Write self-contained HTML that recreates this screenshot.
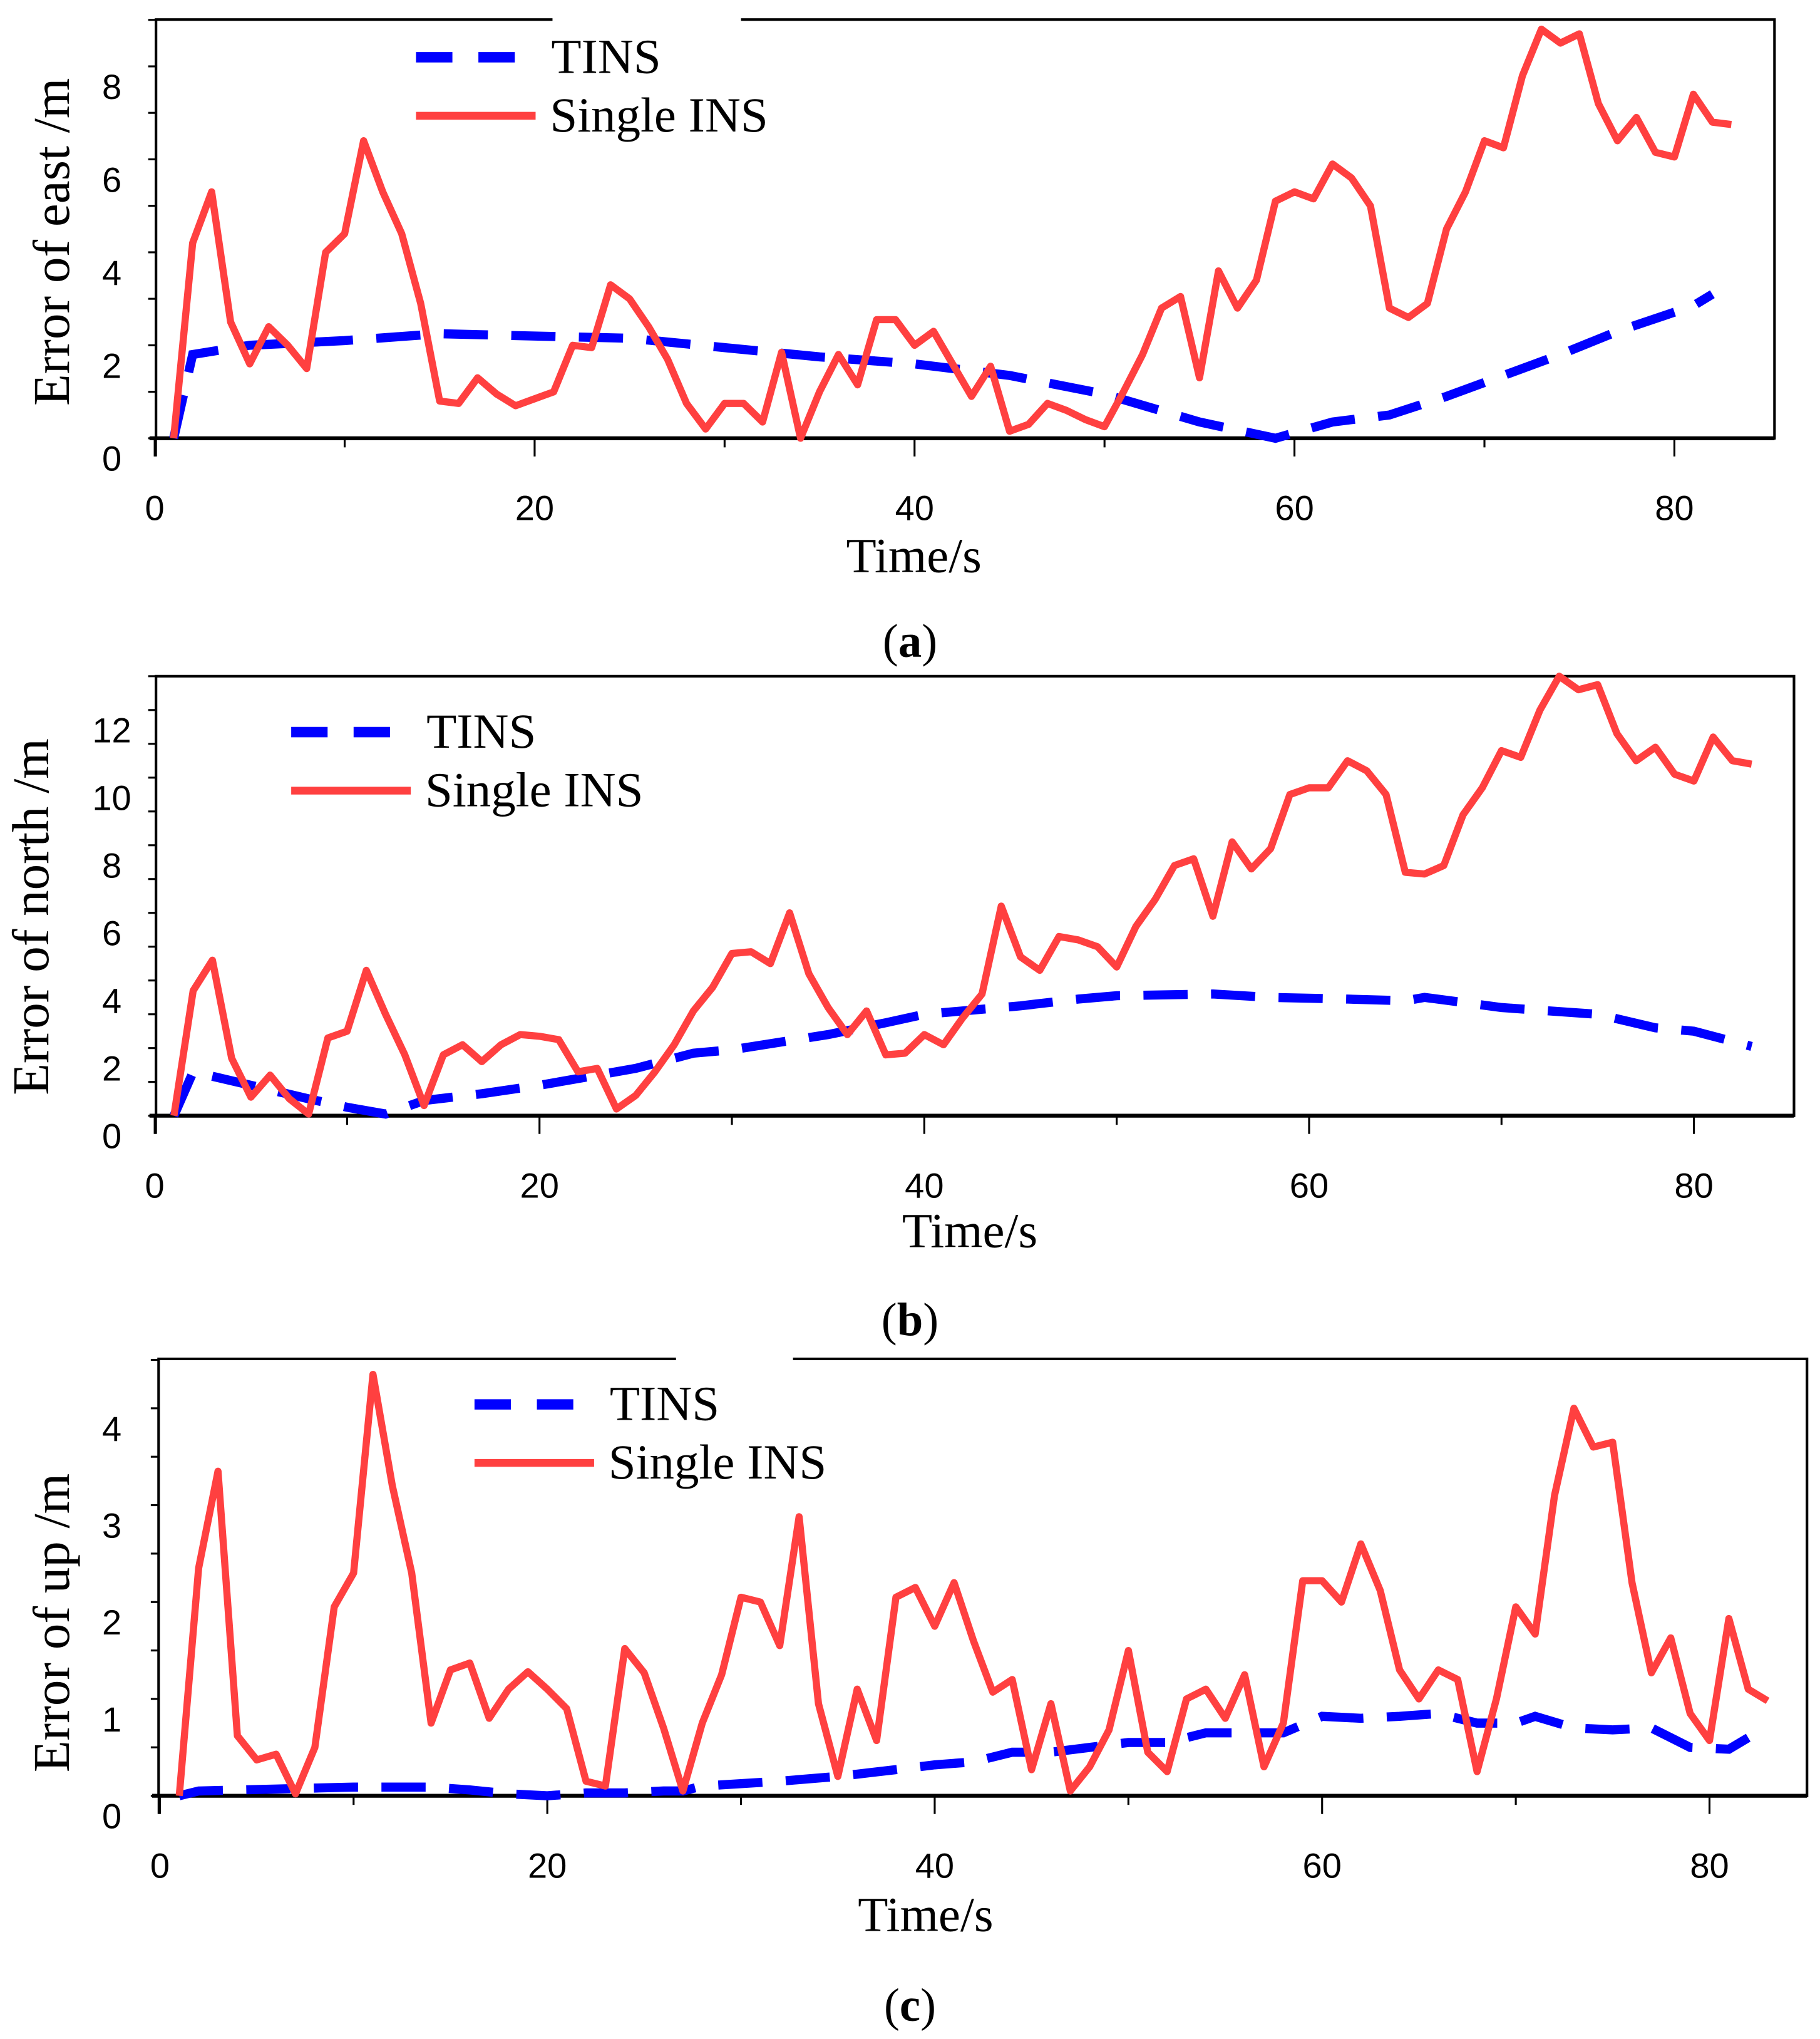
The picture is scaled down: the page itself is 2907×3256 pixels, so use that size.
<!DOCTYPE html>
<html><head><meta charset="utf-8"><style>
html,body{margin:0;padding:0;background:#fff}
svg{display:block}
</style></head><body>
<svg id="chart" width="2907" height="3256" viewBox="0 0 1400 1568" xmlns="http://www.w3.org/2000/svg"></svg>
<script>
const timeSteps = Array.from({length:83},(_,i)=>i+1);
const eastSingle = [0,4.2,5.3,2.5,1.6,2.4,2.0,1.5,4.0,4.4,6.4,5.3,4.4,2.9,0.8,0.75,1.3,0.95,0.7,0.85,1.0,2.0,1.95,3.3,3.0,2.4,1.7,0.75,0.2,0.75,0.75,0.35,1.85,0,1.0,1.8,1.15,2.55,2.55,2.0,2.3,1.6,0.9,1.55,0.15,0.3,0.75,0.6,0.4,0.25,1.0,1.8,2.8,3.05,1.3,3.6,2.8,3.4,5.1,5.3,5.15,5.9,5.6,5.0,2.8,2.6,2.9,4.5,5.3,6.4,6.25,7.8,8.8,8.5,8.7,7.2,6.4,6.9,6.15,6.05,7.4,6.8,6.75];
const eastTinsT = [1,2,5,10,15,20,25,30,35,40,45,50,55,59,62,65,68,70,74,77,81,82];
const eastTins = [0,1.8,2.0,2.1,2.25,2.2,2.15,1.95,1.75,1.6,1.35,0.95,0.35,0.0,0.35,0.5,0.9,1.2,1.8,2.3,2.85,3.1];
const northSingle = [0,3.7,4.6,1.7,0.55,1.2,0.5,0.05,2.3,2.5,4.3,3.0,1.8,0.3,1.8,2.1,1.6,2.1,2.4,2.35,2.25,1.3,1.4,0.2,0.6,1.3,2.1,3.1,3.8,4.8,4.85,4.5,6.0,4.2,3.2,2.4,3.1,1.8,1.85,2.4,2.1,2.9,3.6,6.2,4.7,4.3,5.3,5.2,5.0,4.4,5.6,6.4,7.4,7.6,5.9,8.1,7.3,7.9,9.5,9.7,9.7,10.5,10.2,9.5,7.2,7.15,7.4,8.9,9.7,10.8,10.6,12.0,13.0,12.6,12.75,11.3,10.5,10.9,10.1,9.9,11.2,10.5,10.4];
const northTinsT = [1,2,5,8,10,12,14,17,20,23,25,28,30,35,38,40,43,45,48,50,55,58,62,65,66,70,75,78,80,83];
const northTins = [0,1.3,0.9,0.5,0.25,0.05,0.45,0.65,0.9,1.2,1.4,1.85,1.95,2.4,2.75,3.0,3.15,3.25,3.45,3.55,3.6,3.5,3.45,3.4,3.5,3.2,3.0,2.6,2.5,2.05];
const upSingle = [0,2.35,3.35,0.62,0.37,0.43,0.02,0.5,1.95,2.3,4.35,3.2,2.3,0.75,1.3,1.37,0.8,1.1,1.28,1.1,0.9,0.15,0.1,1.52,1.27,0.7,0.05,0.75,1.25,2.05,2.0,1.55,2.88,0.95,0.2,1.1,0.57,2.05,2.15,1.75,2.2,1.6,1.07,1.2,0.27,0.95,0.05,0.3,0.68,1.5,0.45,0.25,1.0,1.1,0.8,1.25,0.3,0.75,2.22,2.22,2.0,2.6,2.12,1.3,1.0,1.3,1.2,0.25,1.0,1.95,1.67,3.1,4.0,3.6,3.65,2.2,1.27,1.63,0.85,0.57,1.83,1.1,0.98];
const upTinsT = [1,2,6,10,14,16,18,20,22,24,26,27,28,32,35,38,40,42,44,46,48,50,52,54,56,58,60,62,64,66,68,70,71,73,75,77,79,81,82];
const upTins = [0,0.05,0.07,0.09,0.09,0.06,0.02,0,0.03,0.03,0.05,0.05,0.1,0.15,0.2,0.27,0.32,0.35,0.45,0.45,0.5,0.55,0.55,0.65,0.65,0.65,0.82,0.8,0.82,0.85,0.75,0.75,0.82,0.7,0.68,0.7,0.5,0.48,0.6];
const xTicks = [0,20,40,60,80];
const eastTicks = [0,2,4,6,8];
const northTicks = [0,2,4,6,8,10,12];
const upTicks = [0,1,2,3,4];

const NS='http://www.w3.org/2000/svg';
const svg=document.getElementById('chart');
function el(tag,attrs,parent){const e=document.createElementNS(NS,tag);for(const k in attrs)e.setAttribute(k,attrs[k]);(parent||svg).appendChild(e);return e;}

const panels=[
 {id:'east',L:120,R:1365,T:15,x0:119,x80:1288,y0:337,yTop:8,yTopPx:51,ticks:eastTicks,minor:1,ymax:9,single:eastSingle,tt:eastTinsT,tv:eastTins,ylab:'Error of east /m',yl:[40,186],xlabX:703,xlabY:428,capY:493,cap:'a',leg:[320,44],gap:[425,570]},
 {id:'north',L:120,R:1380,T:520,x0:119,x80:1303,y0:858,yTop:12,yTopPx:546,ticks:northTicks,minor:1,ymax:13,single:northSingle,tt:northTinsT,tv:northTins,ylab:'Error of north /m',yl:[24,705],xlabX:746,xlabY:947,capY:1015,cap:'b',leg:[224,563],gap:null},
 {id:'up',L:122,R:1390,T:1045,x0:123,x80:1315,y0:1381,yTop:4,yTopPx:1083,ticks:upTicks,minor:0.5,ymax:4.5,single:upSingle,tt:upTinsT,tv:upTins,ylab:'Error of up /m',yl:[40,1248],xlabX:712,xlabY:1473,capY:1542,cap:'c',leg:[365,1080],gap:[520,610]}
];

panels.forEach(p=>{
 const g=el('g',{});
 
 
 const sx=t=>p.x0+(p.x80-p.x0)*t/80;
 const sy=v=>p.y0-(p.y0-p.yTopPx)*v/p.yTop;
 const B=p.y0;
 const frame=el('rect',{x:p.L,y:p.T,width:p.R-p.L,height:B-p.T,fill:'none',stroke:'#000','stroke-width':2},g);
 
 
 el('line',{x1:p.L-5,y1:B,x2:p.R,y2:B,stroke:'#000','stroke-width':3},g);
 if(p.gap){el('line',{x1:p.gap[0],y1:p.T,x2:p.gap[1],y2:p.T,stroke:'#fff','stroke-width':3},g);}
 for(let v=0;v<=p.ymax+1e-9;v+=p.minor){
   const y=sy(v); if(y<p.T) break;
   el('line',{x1:p.L-6,y1:y,x2:p.L,y2:y,stroke:'#000','stroke-width':1.5},g);
 }
 p.ticks.forEach(v=>{
   const t=el('text',{x:86,y:sy(v)+25,'font-family':'Liberation Sans, sans-serif','font-size':27,'text-anchor':'middle'},g);
   t.textContent=v;
   
   
 });
 for(let t=0;t<=80;t+=10){
   el('line',{x1:sx(t),y1:B,x2:sx(t),y2:B+(t%20===0?14:7),stroke:'#000','stroke-width':1.5},g);
 }
 el('line',{x1:p.L,y1:B,x2:p.L,y2:B+14,stroke:'#000','stroke-width':1.5},g);
 xTicks.forEach(t=>{
   const tx=el('text',{x:sx(t),y:B+63,'font-family':'Liberation Sans, sans-serif','font-size':27,'text-anchor':'middle'},g);
   tx.textContent=t;
   
   
 });
 const xl=el('text',{x:p.xlabX,y:p.xlabY+12,'font-family':'Liberation Serif, serif','font-size':38,'text-anchor':'middle'},g);
 xl.textContent='Time/s';
 
 
 const yl=el('text',{x:0,y:0,transform:`translate(${p.yl[0]+13},${p.yl[1]}) rotate(-90)`,'font-family':'Liberation Serif, serif','font-size':40,'text-anchor':'middle'},g);
 yl.textContent=p.ylab;
 
 
 const cap=el('text',{x:700,y:p.capY+12,'font-family':'Liberation Serif, serif','font-size':36,'text-anchor':'middle'},g);
 cap.innerHTML='(<tspan font-weight="bold">'+p.cap+'</tspan>)';
 
 
 const tinsPts=p.tt.map((t,i)=>sx(t).toFixed(1)+','+sy(p.tv[i]).toFixed(1)).join(' ');
 const tl=el('polyline',{points:tinsPts,fill:'none',stroke:'#0000ff','stroke-width':7,'stroke-dasharray':'34 18'},g);
 
 
 const sPts=p.single.map((v,i)=>sx(timeSteps[i]).toFixed(1)+','+sy(v).toFixed(1)).join(' ');
 const sl=el('polyline',{points:sPts,fill:'none',stroke:'#ff4040','stroke-width':5.5,'stroke-linejoin':'round'},g);
 
 
 const [lx,ly]=p.leg;
 const lg=el('g',{},g);
 
 
 el('line',{x1:lx,y1:ly,x2:lx+90,y2:ly,stroke:'#0000ff','stroke-width':8,'stroke-dasharray':'28 20'},lg);
 const t1=el('text',{x:lx+104,y:ly+12,'font-family':'Liberation Serif, serif','font-size':38},lg);
 t1.textContent='TINS';
 el('line',{x1:lx,y1:ly+45,x2:lx+92,y2:ly+45,stroke:'#ff4040','stroke-width':6},lg);
 const t2=el('text',{x:lx+103,y:ly+57,'font-family':'Liberation Serif, serif','font-size':38},lg);
 t2.textContent='Single INS';
});
</script>
</body></html>
